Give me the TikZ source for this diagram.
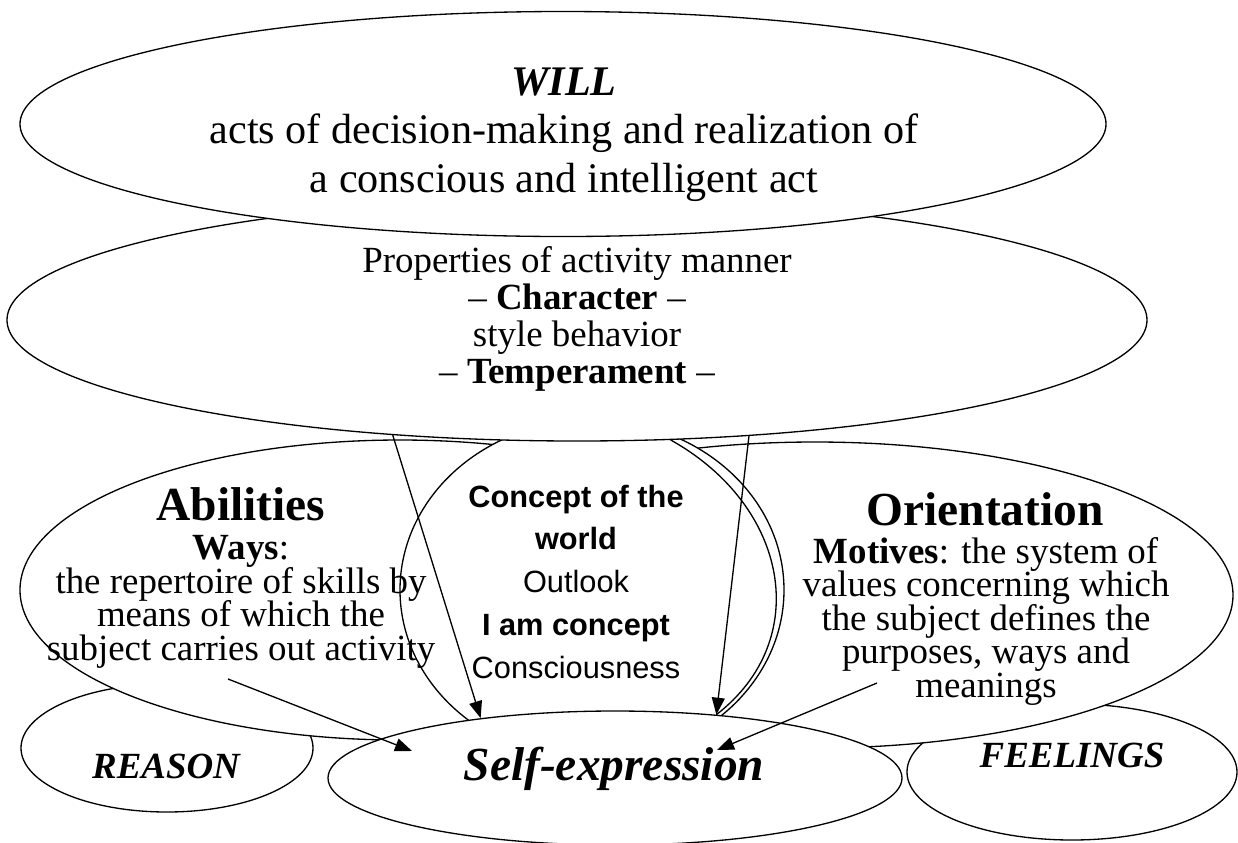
\documentclass[tikz,border=0pt]{standalone}
\usepackage{fontspec}
\setmainfont{Liberation Serif}
\setsansfont{Liberation Sans}
\usetikzlibrary{shapes}
\usetikzlibrary{arrows.meta}
\newcommand\tightlines{\lineskiplimit=-5pt\relax}

\begin{document}
\begin{tikzpicture}[x=0.2mm,y=-0.2mm]
	\tikzstyle{oval}=[ellipse,draw,fill=white,inner sep=0pt,line width=0.75pt]
	\tikzset{ovsize/.style 2 args={minimum width=#1*0.2mm,minimum height=#2*0.2mm}}
	\tikzstyle{txt}=[inner sep=0pt,align=center,anchor=base]
	\tikzstyle{arr}=[-{Triangle[length=3.4mm,width=2.6mm]},line width=0.75pt]

	\useasboundingbox (0,0) rectangle (1238,842);

	% back to front
	\node[oval,ovsize={292}{128}] (reason) at (167,748) {};
	\node[oval,ovsize={330}{136}] (feel) at (1072,772) {};
	\node[oval,ovsize={836}{306}] (orient) at (815,595) {};
	\node[oval,ovsize={760}{300}] (abil) at (400,590) {};
	\node[oval,ovsize={384}{340}] (concept) at (592,590) {};
	\node[oval,ovsize={1140}{242}] (char) at (577,320) {};
	\node[oval,ovsize={1086}{225}] (will) at (563,124) {};
	\node[oval,ovsize={574}{134}] (self) at (615,778) {};

	\draw[arr] (char.212.5) -- (self.156);
	\draw[arr] (char.326.8) -- (self.32.7);
	\draw[line width=0.75pt] (char.308.4) .. controls +(118,66) and +(97,-75) .. (self.32.7);
	\coordinate (waysarr) at (228,679);
	\coordinate (waystip) at (412,751);
	\draw[arr] (waysarr) -- (waystip);
	\coordinate (motivarr) at (877,683);
	\coordinate (motivtip) at (717,750);
	\draw[arr] (motivarr) -- (motivtip);

	% text blocks sit on the baseline of their last line
	\node[txt,font=\fontsize{24}{27.6}\selectfont] (willtxt) at (564,192)
		{\textbf{\textit{WILL}}\\acts of decision-making and realization of\\a conscious and intelligent act};
	\node[txt,font=\fontsize{21}{21}\selectfont] (chartxt) at (577,383)
		{Properties of activity manner\\-- \textbf{Character} --\\style behavior\\-- \textbf{Temperament} --};
	\node[txt,font=\fontsize{27}{30}\selectfont\bfseries] (abilhead) at (241,520) {Abilities};
	\node[txt,font=\fontsize{21}{19}\selectfont\tightlines] (abiltxt) at (241,660)
		{\textbf{Ways}:\\the repertoire of skills by\\means of which the\\subject carries out activity};
	\node[txt,font=\sffamily\fontsize{17.5}{24.3}\selectfont] (concepttxt) at (576,678)
		{\textbf{Concept of the}\\\textbf{world}\\Outlook\\\textbf{I am concept}\\Consciousness};
	\node[txt,font=\fontsize{27}{30}\selectfont\bfseries] (orienthead) at (985,525) {Orientation};
	\node[txt,font=\fontsize{21}{19}\selectfont\tightlines] (orienttxt) at (986,697)
		{\textbf{Motives}: the system of\\values concerning which\\the subject defines the\\purposes, ways and\\meanings};
	\node[txt,font=\fontsize{21}{24}\selectfont\bfseries\itshape] (reasontxt) at (166,778) {REASON};
	\node[txt,font=\fontsize{21}{24}\selectfont\bfseries\itshape] (feeltxt) at (1072,767) {FEELINGS};
	\node[txt,font=\fontsize{27}{30}\selectfont\bfseries\itshape] (selftxt) at (614,780) {Self-expression};
\end{tikzpicture}
\end{document}
